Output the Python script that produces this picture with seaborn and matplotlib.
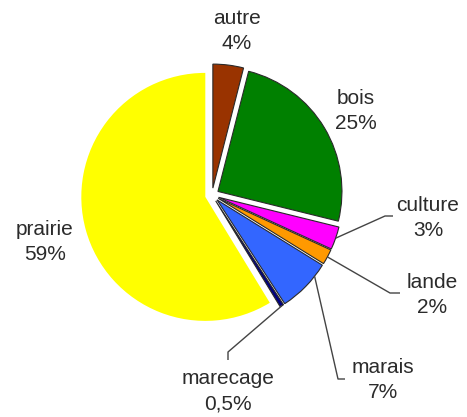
import numpy as np
import matplotlib
matplotlib.use("Agg")
import matplotlib.pyplot as plt
import seaborn as sns

# Land-use shares (%)
categories = ["autre", "bois", "culture", "lande", "marais", "marecage", "prairie"]
values = [4, 25, 3, 2, 7, 0.5, 59]
value_labels = ["4%", "25%", "3%", "2%", "7%", "0,5%", "59%"]
hex_colors = ["#993300", "#008000", "#FF00FF", "#FF9900", "#3366FF", "#000080", "#FFFF00"]

sns.set_style("white")
plt.rcParams["font.family"] = ["Liberation Sans", "DejaVu Sans"]
colors = sns.color_palette(hex_colors)

W, H = 467, 417
CX, CY, R = 212, 195, 124  # pie centre and radius in pixels


def to_data(px, py):
    return (px - CX) / R, (CY - py) / R


fig = plt.figure(figsize=(W / 100, H / 100), dpi=100)
ax = fig.add_axes([0, 0, 1, 1])

wedges, _ = ax.pie(
    values,
    colors=colors,
    startangle=90,
    counterclock=False,
    radius=1,
    center=(0, 0),
    explode=[0.056] * len(values),
    wedgeprops=dict(linewidth=0.8, edgecolor="#2a2a2a"),
)
wedges[-1].set_edgecolor("none")

ax.set_xlim(-CX / R, (W - CX) / R)
ax.set_ylim((CY - H) / R, CY / R)
ax.set_aspect("auto")
ax.axis("off")

# label layout: text centre (px) and optional leader path (elbow points, px)
text_pos = {
    "autre": (237, 31),
    "bois": (356, 111),
    "culture": (428, 218),
    "lande": (432, 295),
    "marais": (383, 380),
    "marecage": (228, 391),
    "prairie": (45, 242),
}
leaders = {
    "culture": [(385, 216), (393, 216)],
    "lande": [(390, 293), (400, 293)],
    "marais": [(338, 379), (345, 379)],
    "marecage": [(228, 352), (228, 360)],
}
anchor_frac = {"culture": 0.5, "lande": 0.5, "marais": 0.75, "marecage": 0.5}

for w, cat, lab in zip(wedges, categories, value_labels):
    tx, ty = to_data(*text_pos[cat])
    ax.text(tx, ty, f"{cat}\n{lab}", ha="center", va="center",
            fontsize=15, color="#2b2b2b", linespacing=1.42)
    if cat in leaders:
        t1, t2 = np.deg2rad(w.theta1), np.deg2rad(w.theta2)
        th = t1 + (t2 - t1) * anchor_frac[cat]
        cx, cy = w.center
        ax0 = cx + w.r * np.cos(th)
        ay0 = cy + w.r * np.sin(th)
        pts = [(ax0, ay0)] + [to_data(*p) for p in leaders[cat]]
        xs, ys = zip(*pts)
        ax.plot(xs, ys, color="#444444", lw=1.0, solid_capstyle="butt")

fig.savefig("out.png", dpi=100)
